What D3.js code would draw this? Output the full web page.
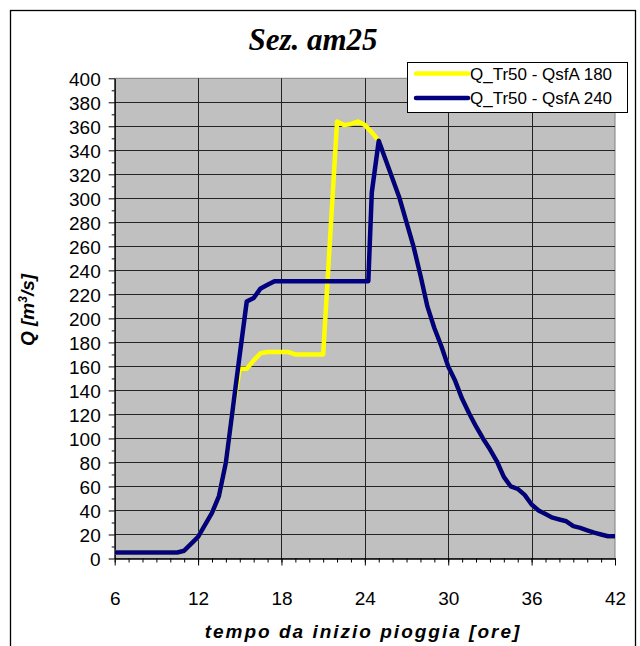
<!DOCTYPE html>
<html>
<head>
<meta charset="utf-8">
<script src="https://cdn.jsdelivr.net/npm/d3@7"></script>
<style>
  body { margin: 0; background: #fff; }
  text { font-family: "Liberation Sans", Arial, sans-serif; }
</style>
</head>
<body>
<div id="chart"></div>
<script>
// Data (hours from start of rain, discharge in m3/s)
var riseHours = [6, 7, 8, 9, 10, 10.5, 11, 12, 13, 13.5, 14, 14.5];
var riseQ     = [5, 5, 5, 5, 5, 5, 6.5, 18, 38, 52, 80, 125];

var hoursA180 = [15, 15.5, 16, 16.5, 17, 18, 18.5, 19, 20, 21, 22, 22.5, 23, 23.5, 24, 24.5];
var qA180     = [158, 158, 165, 171, 172, 172, 172, 170, 170, 170, 364, 361, 362, 364, 361, 355];

var hoursA240 = [15, 15.5, 16, 16.5, 17, 17.5, 18, 20, 22, 24, 24.25, 24.5];
var qA240     = [170, 214, 217, 225, 228, 231, 231, 231, 231, 231, 231, 305];

var fallHours = [25, 26.5, 27, 27.5, 28, 28.5, 29, 29.5, 30, 30.5, 31, 31.5, 32, 32.5, 33, 33.5, 34, 34.5,
                 35, 35.5, 36, 36.5, 37, 37.5, 38, 38.5, 39, 39.5, 40, 40.5, 41, 41.5, 42];
var fallQ     = [348, 300, 280, 260, 236, 210, 192, 177, 160, 148, 133, 121, 110, 100, 91, 81, 68, 60,
                 58, 53, 45, 40, 37, 34, 32.5, 31, 27, 25.5, 23.5, 21.5, 20, 18.5, 18.5];

var xTicks = [6, 12, 18, 24, 30, 36, 42];
var yTicks = d3.range(0, 401, 20);

var seriesNames = ["Q_Tr50 - QsfA 180", "Q_Tr50 - QsfA 240"];
var seriesColors = ["#ffff00", "#000080"];

function toPoints(h, q) {
  return h.map(function(d, i) { return { h: d, q: q[i] }; });
}
var series = [
  toPoints(riseHours.concat(hoursA180, fallHours), riseQ.concat(qA180, fallQ)),
  toPoints(riseHours.concat(hoursA240, fallHours), riseQ.concat(qA240, fallQ))
];

var svgWidth = 640;
var svgHeight = 646;
var plot = { left: 114.7, right: 615, top: 78.3, bottom: 558.5 };

var svg = d3.select("#chart")
  .append("svg")
  .attr("width", svgWidth)
  .attr("height", svgHeight);

// outer frame (bottom edge runs off the page)
svg.append("rect")
  .attr("x", 10.5).attr("y", 10.5)
  .attr("width", 625).attr("height", 660)
  .attr("fill", "#fff")
  .attr("stroke", "#000")
  .attr("stroke-width", 1.3);

svg.append("text")
  .attr("x", 313).attr("y", 50)
  .attr("text-anchor", "middle")
  .style("font-family", "'Liberation Serif', 'Times New Roman', serif")
  .style("font-weight", "bold")
  .style("font-style", "italic")
  .style("font-size", "31px")
  .text("Sez. am25");

// scales
var x = d3.scaleLinear().domain([6, 42]).range([plot.left, plot.right]);
var y = d3.scaleLinear().domain([0, 400]).range([plot.bottom, plot.top]);

// plot area
svg.append("rect")
  .attr("x", plot.left).attr("y", plot.top)
  .attr("width", plot.right - plot.left).attr("height", plot.bottom - plot.top)
  .attr("fill", "#c0c0c0")
  .attr("stroke", "#808080")
  .attr("stroke-width", 1);

// gridlines
svg.append("g")
  .selectAll("line")
  .data(yTicks.filter(function(d) { return d > 0 && d < 400; }))
  .enter()
  .append("line")
  .attr("x1", plot.left).attr("x2", plot.right)
  .attr("y1", d => Math.round(y(d)) + 0.5).attr("y2", d => Math.round(y(d)) + 0.5)
  .attr("stroke", "#222");

svg.append("g")
  .selectAll("line")
  .data(xTicks.filter(function(d) { return d > 6 && d < 42; }))
  .enter()
  .append("line")
  .attr("x1", d => Math.round(x(d)) + 0.5).attr("x2", d => Math.round(x(d)) + 0.5)
  .attr("y1", plot.top).attr("y2", plot.bottom)
  .attr("stroke", "#222");

// minor ticks
var yMinor = d3.axisLeft(y).tickValues(d3.range(10, 400, 20)).tickSize(3).tickFormat("");
var xMinor = d3.axisBottom(x).tickValues(d3.range(6, 43, 1)).tickSize(4).tickFormat("");

svg.append("g")
  .attr("transform", `translate(${plot.left}, 0)`)
  .call(yMinor)
  .call(g => g.select(".domain").remove());

svg.append("g")
  .attr("transform", `translate(0, ${plot.bottom})`)
  .call(xMinor)
  .call(g => g.select(".domain").remove());

// major axes
var leftAxis = d3.axisLeft(y).tickValues(yTicks).tickSize(6).tickPadding(8).tickSizeOuter(0);
var bottomAxis = d3.axisBottom(x).tickValues(xTicks).tickSize(7).tickPadding(26).tickSizeOuter(0);

svg.append("g")
  .attr("transform", `translate(${plot.left}, 0)`)
  .call(leftAxis)
  .call(g => g.selectAll("text").style("font-size", "19px").attr("fill", "#000").attr("dy", "0.36em"));

svg.append("g")
  .attr("transform", `translate(0, ${plot.bottom})`)
  .call(bottomAxis)
  .call(g => g.selectAll("text").style("font-size", "19px").attr("fill", "#000"));

svg.selectAll(".domain").attr("stroke-width", 1.3);

// lines
var line = d3.line()
  .x(d => x(d.h))
  .y(d => y(d.q));

svg.append("g")
  .selectAll("path")
  .data(series)
  .enter()
  .append("path")
  .attr("d", line)
  .attr("fill", "none")
  .attr("stroke", (d, i) => seriesColors[i])
  .attr("stroke-width", 4.5)
  .attr("stroke-linejoin", "round");

// axis labels
svg.append("text")
  .attr("transform", "translate(34, 310) rotate(-90)")
  .attr("text-anchor", "middle")
  .style("font-weight", "bold")
  .style("font-style", "italic")
  .style("font-size", "19px")
  .text("Q [m")
  .append("tspan").attr("baseline-shift", "super").style("font-size", "12px").text("3")
  .select(function() { return this.parentNode; })
  .append("tspan").text("/s]");

svg.append("text")
  .attr("x", 363).attr("y", 638)
  .attr("text-anchor", "middle")
  .style("font-weight", "bold")
  .style("font-style", "italic")
  .style("font-size", "19px")
  .style("letter-spacing", "2px")
  .text("tempo da inizio pioggia [ore]");

// legend
var legend = svg.append("g").attr("transform", "translate(407, 62)");
legend.append("rect")
  .attr("x", 0.5).attr("y", 0.5)
  .attr("width", 220).attr("height", 50)
  .attr("fill", "#fff")
  .attr("stroke", "#000");

var items = legend.selectAll(".item")
  .data(seriesNames)
  .enter()
  .append("g")
  .attr("transform", (d, i) => `translate(0, ${11.5 + i * 24.5})`);

items.append("line")
  .attr("x1", 9).attr("x2", 61)
  .attr("stroke", (d, i) => seriesColors[i])
  .attr("stroke-width", 4.5)
  .attr("stroke-linecap", "round");

items.append("text")
  .attr("x", 63)
  .attr("y", 6)
  .style("font-size", "17px")
  .text(d => d);
</script>
</body>
</html>
